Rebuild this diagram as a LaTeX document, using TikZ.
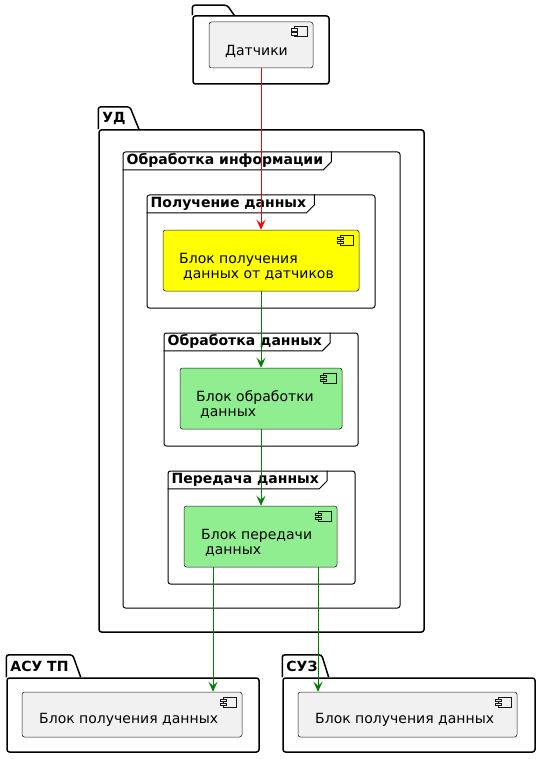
\documentclass[tikz,border=0pt]{standalone}
\usepackage{fontspec}
\setmainfont{DejaVu Sans}
\usepackage{tikz}
\usetikzlibrary{arrows.meta, positioning}

\definecolor{compfill}{HTML}{F1F1F1}
\definecolor{compline}{HTML}{181818}
\definecolor{blkyellow}{HTML}{FFFF00}
\definecolor{blkgreen}{HTML}{90EE90}
\definecolor{lnkgreen}{HTML}{008000}
\definecolor{lnkred}{HTML}{FF0000}

\tikzset{
  comp/.style={draw=compline, line width=0.5pt, rounded corners=2.5pt, fill=compfill, inner sep=0pt},
  pkg/.style={draw=black, line width=1.5pt, rounded corners=2.5pt, inner sep=0pt},
  pkgtab/.style={draw=black, line width=1.5pt, rounded corners=2.5pt},
  frm/.style={draw=black, line width=1pt, rounded corners=2.5pt, inner sep=0pt},
  frmtab/.style={draw=black, line width=1pt},
  ttl/.style={font=\fontsize{14}{15}\selectfont\bfseries, inner xsep=4pt, inner ysep=0pt, minimum height=18pt},
  txt/.style={inner sep=0pt, align=left, anchor=base west},
  lnk/.style={line width=1pt, -{Stealth[length=10pt, width=9pt, inset=4pt]}},
}

% component icon in the upper right corner
\newcommand{\compicon}[2]{%
  \draw[compline, line width=0.5pt] ([xshift=-19pt, yshift=-5pt]#1.north east) rectangle ([xshift=-6pt, yshift=-15pt]#1.north east);
  \draw[compline, line width=0.5pt, fill=#2] ([xshift=-22pt, yshift=-7pt]#1.north east) rectangle ++(6pt, -2.5pt);
  \draw[compline, line width=0.5pt, fill=#2] ([xshift=-22pt, yshift=-11pt]#1.north east) rectangle ++(6pt, -2.5pt);
}

\begin{document}
\begin{tikzpicture}[x=1pt, y=-1pt, font=\fontsize{14}{15}\selectfont]
  \fill[white] (0,0) rectangle (540,759);
  \useasboundingbox (0,0) rectangle (540,759);

  % Package: sensors
  \node[pkg, minimum width=136pt, minimum height=68pt] (sensPkg) at (261,50) {};
  \draw[pkgtab] (sensPkg.north west) -- ++(0pt,10pt) -- ++(35pt,0pt) -- ++(7pt,-10pt);
  \node[comp, minimum width=104pt, minimum height=46pt] (sens) at (261,45) {};
  \compicon{sens}{compfill}
  \node[txt] (sensTxt) at (225,56) {Датчики};

  % Package: УД
  \node[pkg, minimum width=325pt, minimum height=502pt] (udPkg) at (261.5,381) {};
  \node[ttl, anchor=south west, minimum height=22pt] (udTtl) at (udPkg.north west) {УД};
  \draw[pkgtab] (udPkg.north west) -- (udPkg.north west |- udTtl.north) -- (udTtl.north east) -- ([xshift=9pt]udTtl.south east);

  % Frame: information processing
  \node[frm, minimum width=277pt, minimum height=456pt] (infoFrm) at (261.5,380) {};
  \node[ttl, anchor=north west] (infoTtl) at (infoFrm.north west) {Обработка информации};
  \draw[frmtab] ([xshift=4pt]infoTtl.north east) -- ([xshift=4pt, yshift=8pt]infoTtl.south east) -- ([xshift=-4pt]infoTtl.south east) -- (infoTtl.south west);

  % Frame 1: receiving
  \node[frm, minimum width=228pt, minimum height=113pt] (recvFrm) at (261,251.5) {};
  \node[ttl, anchor=north west] (recvTtl) at (recvFrm.north west) {Получение данных};
  \draw[frmtab] ([xshift=4pt]recvTtl.north east) -- ([xshift=4pt, yshift=8pt]recvTtl.south east) -- ([xshift=-4pt]recvTtl.south east) -- (recvTtl.south west);
  \node[comp, fill=blkyellow, minimum width=196pt, minimum height=61pt] (recv) at (261,260.5) {};
  \compicon{recv}{blkyellow}
  \node[txt] (recvTxt) at (179,278) {Блок получения\\\hspace*{4pt}данных от датчиков};

  % Frame 2: processing
  \node[frm, minimum width=194pt, minimum height=113pt] (procFrm) at (261,389.5) {};
  \node[ttl, anchor=north west] (procTtl) at (procFrm.north west) {Обработка данных};
  \draw[frmtab] ([xshift=4pt]procTtl.north east) -- ([xshift=4pt, yshift=8pt]procTtl.south east) -- ([xshift=-4pt]procTtl.south east) -- (procTtl.south west);
  \node[comp, fill=blkgreen, minimum width=162pt, minimum height=61pt] (proc) at (261,398.5) {};
  \compicon{proc}{blkgreen}
  \node[txt] (procTxt) at (196,416) {Блок обработки\\\hspace*{4pt}данных};

  % Frame 3: sending
  \node[frm, minimum width=187pt, minimum height=113pt] (sendFrm) at (261.5,527.5) {};
  \node[ttl, anchor=north west] (sendTtl) at (sendFrm.north west) {Передача данных};
  \draw[frmtab] ([xshift=4pt]sendTtl.north east) -- ([xshift=4pt, yshift=8pt]sendTtl.south east) -- ([xshift=-4pt]sendTtl.south east) -- (sendTtl.south west);
  \node[comp, fill=blkgreen, minimum width=153pt, minimum height=61pt] (send) at (260.5,536.5) {};
  \compicon{send}{blkgreen}
  \node[txt] (sendTxt) at (201,554) {Блок передачи\\\hspace*{4pt}данных};

  % Package: АСУ ТП
  \node[pkg, minimum width=252pt, minimum height=74pt] (asuPkg) at (133,715) {};
  \node[ttl, anchor=south west, minimum height=22pt] (asuTtl) at (asuPkg.north west) {АСУ ТП};
  \draw[pkgtab] (asuPkg.north west) -- (asuPkg.north west |- asuTtl.north) -- (asuTtl.north east) -- ([xshift=8pt]asuTtl.south east);
  \node[comp, minimum width=220pt, minimum height=45pt] (asu) at (132,714.5) {};
  \compicon{asu}{compfill}
  \node[txt] (asuTxt) at (39,723) {Блок получения данных};

  % Package: СУЗ
  \node[pkg, minimum width=252pt, minimum height=74pt] (suzPkg) at (409,715) {};
  \node[ttl, anchor=south west, minimum height=22pt] (suzTtl) at (suzPkg.north west) {СУЗ};
  \draw[pkgtab] (suzPkg.north west) -- (suzPkg.north west |- suzTtl.north) -- (suzTtl.north east) -- ([xshift=7pt]suzTtl.south east);
  \node[comp, minimum width=219pt, minimum height=45pt] (suz) at (407.5,714.5) {};
  \compicon{suz}{compfill}
  \node[txt] (suzTxt) at (315,723) {Блок получения данных};

  % Links
  \draw[lnk, lnkred] (sens.south) -- (recv.north);
  \draw[lnk, lnkgreen] (recv.south) -- (proc.north);
  \draw[lnk, lnkgreen] (proc.south) -- (proc.south |- send.north);
  \draw[lnk, lnkgreen] ([xshift=-47.5pt]send.south) -- ([xshift=-47.5pt]send.south |- asu.north);
  \draw[lnk, lnkgreen] ([xshift=57.5pt]send.south) -- ([xshift=57.5pt]send.south |- suz.north);
\end{tikzpicture}
\end{document}
